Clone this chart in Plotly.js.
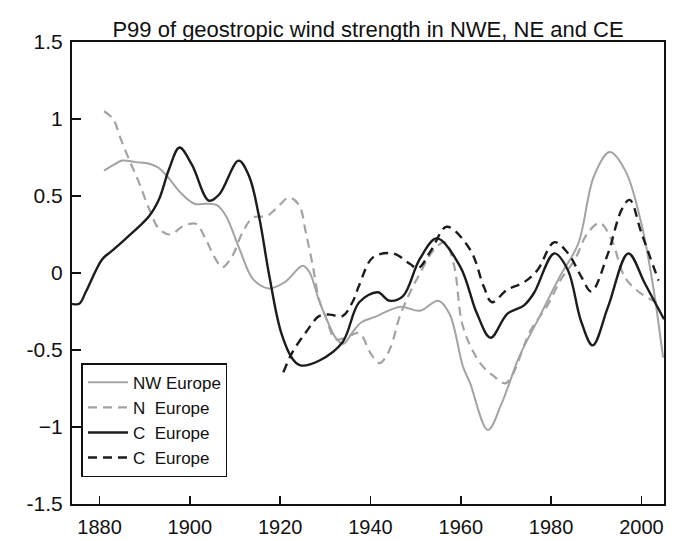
<!DOCTYPE html>
<html>
<head>
<meta charset="utf-8">
<script src="https://cdn.plot.ly/plotly-3.0.1.min.js"></script>
<style>html,body{margin:0;padding:0;background:#fff;}#chart{width:675px;height:541px;}</style>
</head>
<body>
<div id="chart"></div>
<script>
// NW Europe (solid grey)
const yearsNW = [1881, 1883, 1885, 1888, 1891, 1893, 1895.5, 1898, 1901, 1903.5, 1906, 1908, 1911, 1914, 1917.5, 1921, 1925, 1926.5, 1928.5, 1930, 1932.5, 1934, 1936, 1938, 1941, 1946.5, 1951, 1955, 1957.5, 1960.5, 1962, 1966, 1969, 1973, 1977.5, 1982, 1986, 1989.5, 1993, 1996.5, 2000, 2002.5, 2004.8];
const valuesNW = [0.665, 0.70, 0.73, 0.72, 0.71, 0.685, 0.61, 0.52, 0.45, 0.45, 0.44, 0.37, 0.155, -0.04, -0.10, -0.06, 0.047, 0.005, -0.17, -0.28, -0.43, -0.46, -0.385, -0.32, -0.285, -0.22, -0.245, -0.18, -0.265, -0.61, -0.71, -1.02, -0.85, -0.54, -0.28, -0.02, 0.19, 0.63, 0.785, 0.66, 0.32, -0.07, -0.55];

// N Europe (dashed grey)
const yearsN = [1881, 1883, 1884.7, 1886.5, 1888.7, 1891, 1893.2, 1895.7, 1898.3, 1901.3, 1903.5, 1905.7, 1907.2, 1909.4, 1911.6, 1914, 1917, 1919, 1922, 1924.2, 1925.7, 1927.2, 1928.6, 1930, 1932.3, 1934.5, 1937.5, 1940, 1942, 1944.2, 1946.5, 1948.7, 1951, 1954, 1956.5, 1958.5, 1960.5, 1964.3, 1967.3, 1970, 1975.5, 1979.2, 1982.2, 1985.2, 1988.1, 1990.8, 1993.4, 1996.3, 1999.3, 2002.3, 2004.5];
const valuesN = [1.05, 1.0, 0.87, 0.74, 0.59, 0.415, 0.285, 0.25, 0.30, 0.32, 0.22, 0.09, 0.037, 0.11, 0.26, 0.36, 0.37, 0.415, 0.49, 0.44, 0.26, 0.05, -0.17, -0.28, -0.43, -0.42, -0.39, -0.52, -0.585, -0.50, -0.28, -0.13, 0.0, 0.15, 0.2, 0.05, -0.35, -0.585, -0.67, -0.715, -0.37, -0.21, -0.04, 0.085, 0.26, 0.325, 0.215, -0.026, -0.12, -0.175, -0.2];

// C Europe (solid black)
const yearsC = [1873.9, 1875.5, 1877, 1880.6, 1882.8, 1885.7, 1891, 1893.2, 1895.4, 1897.7, 1900.5, 1904.2, 1906.5, 1910.8, 1913.1, 1915.3, 1917.6, 1920.2, 1922.8, 1924.5, 1928.6, 1933.8, 1937.5, 1941.6, 1944.2, 1947.2, 1950.9, 1954.7, 1959.9, 1963.6, 1966.6, 1970.3, 1974, 1976.2, 1980.7, 1983.7, 1986.6, 1989.2, 1992.6, 1997.1, 2000.8, 2005];
const valuesC = [-0.20, -0.20, -0.12, 0.09, 0.145, 0.22, 0.37, 0.48, 0.675, 0.815, 0.70, 0.47, 0.51, 0.73, 0.63, 0.37, -0.02, -0.385, -0.56, -0.60, -0.57, -0.45, -0.19, -0.125, -0.18, -0.15, 0.09, 0.225, 0.04, -0.265, -0.42, -0.265, -0.21, -0.13, 0.127, 0.02, -0.31, -0.47, -0.22, 0.127, -0.07, -0.3];

// second C Europe (dashed black)
const yearsC2 = [1920.7, 1922.7, 1925.7, 1928.6, 1931, 1933.8, 1936, 1937.5, 1940.5, 1945, 1948.7, 1950.5, 1953.5, 1956.9, 1962.1, 1965.1, 1966.9, 1970.2, 1974, 1977, 1980.7, 1983.7, 1986.7, 1988.9, 1992.6, 1995.6, 1997.4, 2000, 2003.8];
const valuesC2 = [-0.645, -0.515, -0.385, -0.28, -0.27, -0.28, -0.19, -0.08, 0.10, 0.127, 0.06, 0.03, 0.15, 0.30, 0.15, -0.09, -0.19, -0.11, -0.06, 0.02, 0.20, 0.13, -0.025, -0.12, 0.127, 0.41, 0.475, 0.26, -0.05];

const seriesNames = ["NW Europe", "N\u00a0 Europe", "C\u00a0 Europe", "C\u00a0 Europe"];
const xTicks = [1880, 1900, 1920, 1940, 1960, 1980, 2000];
const yTicks = [-1.5, -1, -0.5, 0, 0.5, 1, 1.5];
const yTickText = ["-1.5", "\u22121", "-0.5", "0", "0.5", "1", "1.5"];

const FONT = '"Liberation Sans", Arial, Helvetica, sans-serif';
const GREY = '#a3a3a3';
const BLACK = '#1c1c1c';

const traces = [
  {x: yearsNW, y: valuesNW, name: seriesNames[0], mode: 'lines', line: {color: GREY, width: 2, shape: 'spline', smoothing: 1}},
  {x: yearsN, y: valuesN, name: seriesNames[1], mode: 'lines', line: {color: GREY, width: 2.2, dash: '9px,6px', shape: 'spline', smoothing: 1}},
  {x: yearsC, y: valuesC, name: seriesNames[2], mode: 'lines', line: {color: BLACK, width: 2.4, shape: 'spline', smoothing: 1}},
  {x: yearsC2, y: valuesC2, name: seriesNames[3], mode: 'lines', line: {color: BLACK, width: 2.4, dash: '9px,6px', shape: 'spline', smoothing: 1}}
];

const layout = {
  width: 675, height: 541,
  margin: {l: 72, r: 11, t: 42, b: 37, pad: 0},
  paper_bgcolor: '#fff', plot_bgcolor: '#fff',
  font: {family: FONT, color: '#111', size: 21},
  title: {text: 'P99 of geostropic wind strength in NWE, NE and CE', font: {family: FONT, size: 22, color: '#111'},
          x: 0.5, xref: 'paper', xanchor: 'center', y: 1 - 37/541, yref: 'container', yanchor: 'bottom'},
  xaxis: {range: [1873.9, 2005.0], tickvals: xTicks, ticktext: xTicks.map(String), ticks: 'inside', ticklen: 8, tickwidth: 1.5, tickcolor: '#111',
          showline: true, linecolor: '#111', linewidth: 2, mirror: true, showgrid: false, zeroline: false, ticklabelstandoff: 4,
          tickfont: {family: FONT, size: 20, color: '#111'}},
  yaxis: {range: [-1.5, 1.5], tickvals: yTicks, ticktext: yTickText, ticks: 'inside', ticklen: 9, tickwidth: 1.5, tickcolor: '#111',
          showline: true, linecolor: '#111', linewidth: 2, mirror: true, showgrid: false, zeroline: false, ticklabelstandoff: 3,
          tickfont: {family: FONT, size: 21, color: '#111'}},
  showlegend: true,
  legend: {x: 0.016, y: 0.058, xanchor: 'left', yanchor: 'bottom', bgcolor: '#fff', bordercolor: '#111', borderwidth: 1.5,
           font: {family: FONT, size: 17, color: '#111'}, tracegroupgap: 0, itemwidth: 40}
};

Plotly.newPlot('chart', traces, layout, {displayModeBar: false, staticPlot: true});
</script>
</body>
</html>
